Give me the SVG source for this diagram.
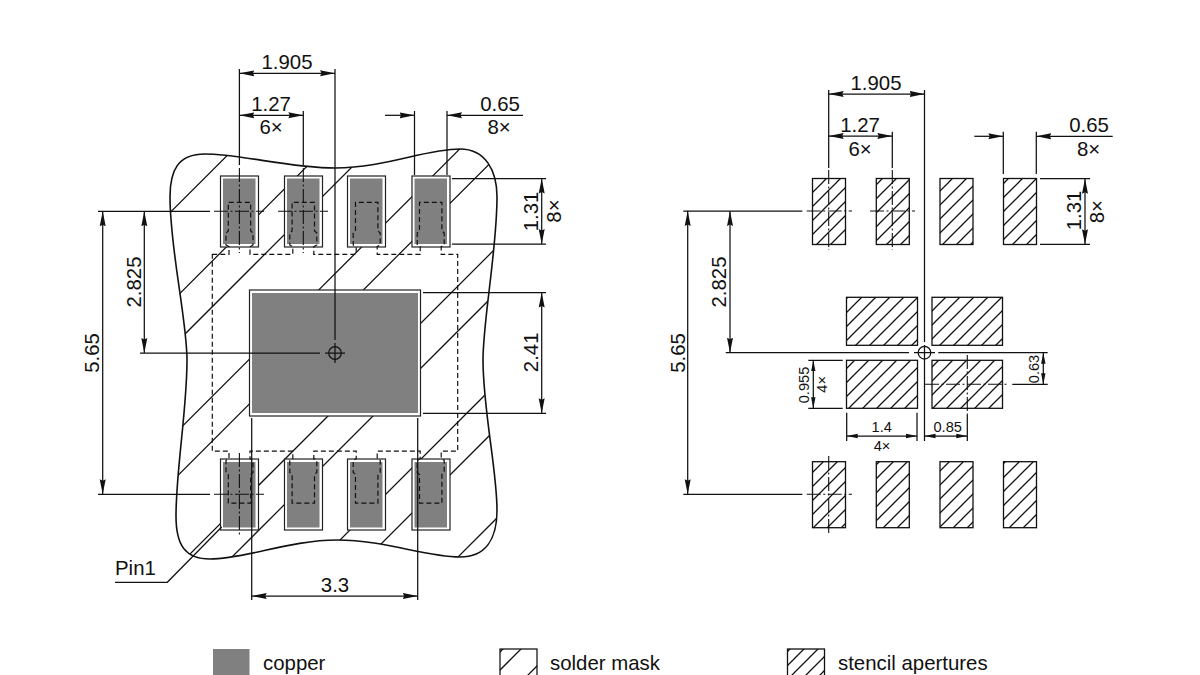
<svg xmlns="http://www.w3.org/2000/svg" width="1200" height="675" viewBox="0 0 1200 675">
<style>
text{font-family:"Liberation Sans",Arial,sans-serif;font-size:20.4px;fill:#111}
.m{text-anchor:middle}
.s{font-size:14.6px}
.l{fill:none;stroke:#111;stroke-width:1.25}
.o{stroke-width:1.6}
.cd{fill:none;stroke:#111;stroke-width:1.1;stroke-dasharray:14 2.5 2 2.5}
.dash{fill:none;stroke:#111;stroke-width:1.2;stroke-dasharray:5 3}
.a{marker-end:url(#ar);marker-start:url(#ar)}
.e{marker-end:url(#ar)}
.as{marker-end:url(#sm);marker-start:url(#sm)}
.pad{fill:#fff;stroke:#222;stroke-width:1.2}
.cu{fill:#808080}
.st{fill:url(#hatch);stroke:#111;stroke-width:1.3}
</style>
<defs>
<marker id="ar" markerUnits="userSpaceOnUse" markerWidth="16" markerHeight="8" refX="15" refY="4" orient="auto-start-reverse"><path d="M0 1L15 4L0 7L1.5 4Z" fill="#111"/></marker>
<marker id="sm" markerUnits="userSpaceOnUse" markerWidth="12" markerHeight="6" refX="11" refY="3" orient="auto-start-reverse"><path d="M0 .8L11 3L0 5.2Z" fill="#111"/></marker>
<pattern id="hatch" patternUnits="userSpaceOnUse" width="14" height="14" patternTransform="translate(11 0)"><path d="M-1 15L15 -1M-1 1L1 -1M13 15L15 13" fill="none" stroke="#111" stroke-width="1.25"/></pattern>
<clipPath id="maskclip"><path clip-rule="evenodd" d="M170 197C170 170 178 154 205 154C240 154 290 168 335 168C385 168 425 149 460 149C485 149 497 170 497 197C497 250 483 320 483 360C483 410 497 470 497 510C497 540 485 557 460 557C425 557 385 540 337 540C290 540 245 559 210 559C185 559 176 545 176 516C176 470 187 410 187 360C187 320 170 250 170 197ZM220.5 176H258.5V247H220.5ZM284.5 176H322.5V247H284.5ZM347.5 176H385.5V247H347.5ZM412 176H450V247H412ZM220.5 459H258.5V530H220.5ZM284.5 459H322.5V530H284.5ZM347.5 459H385.5V530H347.5ZM412 459H450V530H412ZM249.5 290H420.5V416H249.5Z"/></clipPath>
<clipPath id="legclip"><rect x="500" y="649" width="37" height="30"/></clipPath>
</defs>

<g id="solder-mask">
<path class="l" clip-path="url(#maskclip)" d="M150 232.7L282.7 100M150 323.3L373.3 100M150 369L419 100M150 458.7L508.7 100M150 503.3L553.3 100M150 594L644 100M150 639L689 100M200 680L780 100M245 680L825 100M335 680L915 100"/>
<path class="l o" d="M170 197C170 170 178 154 205 154C240 154 290 168 335 168C385 168 425 149 460 149C485 149 497 170 497 197C497 250 483 320 483 360C483 410 497 470 497 510C497 540 485 557 460 557C425 557 385 540 337 540C290 540 245 559 210 559C185 559 176 545 176 516C176 470 187 410 187 360C187 320 170 250 170 197Z"/>
</g>

<g id="copper-pads">
<g id="pad-t1"><rect class="pad" x="220.5" y="176" width="38" height="71"/><rect class="cu" x="223" y="178.5" width="32.5" height="65.5"/></g>
<g id="pad-t2"><rect class="pad" x="284.5" y="176" width="38" height="71"/><rect class="cu" x="287" y="178.5" width="32.5" height="65.5"/></g>
<g id="pad-t3"><rect class="pad" x="347.5" y="176" width="38" height="71"/><rect class="cu" x="350" y="178.5" width="32.5" height="65.5"/></g>
<g id="pad-t4"><rect class="pad" x="412" y="176" width="38" height="71"/><rect class="cu" x="414.5" y="178.5" width="32.5" height="65.5"/></g>
<g id="pad-b1"><rect class="pad" x="220.5" y="459" width="38" height="71"/><rect class="cu" x="223" y="462" width="32.5" height="65.5"/></g>
<g id="pad-b2"><rect class="pad" x="284.5" y="459" width="38" height="71"/><rect class="cu" x="287" y="462" width="32.5" height="65.5"/></g>
<g id="pad-b3"><rect class="pad" x="347.5" y="459" width="38" height="71"/><rect class="cu" x="350" y="462" width="32.5" height="65.5"/></g>
<g id="pad-b4"><rect class="pad" x="412" y="459" width="38" height="71"/><rect class="cu" x="414.5" y="462" width="32.5" height="65.5"/></g>
<g id="pad-center"><rect class="pad" x="249.5" y="290" width="171" height="126"/><rect class="cu" x="252" y="293" width="166" height="120"/></g>
</g>

<g id="mask-opening">
<path class="dash" d="M212.3 254.3H229V246.7L226 245V233L228.3 231V202.3H250.7V231L253 233V245L250 246.7V254.3H292.8V246.7L289.8 245V233L292.1 231V202.3H314.5V231L316.8 233V245L313.8 246.7V254.3H356.2V246.7L353.2 245V233L355.5 231V202.3H377.9V231L380.2 233V245L377.2 246.7V254.3H420.2V246.7L417.2 245V233L419.5 231V202.3H441.9V231L444.2 233V245L441.2 246.7V254.3H457.7V451.1H441.2V458.7L444.2 460.4V472.4L441.9 474.4V503.1H419.5V474.4L417.2 472.4V460.4L420.2 458.7V451.1H377.2V458.7L380.2 460.4V472.4L377.9 474.4V503.1H355.5V474.4L353.2 472.4V460.4L356.2 458.7V451.1H313.8V458.7L316.8 460.4V472.4L314.5 474.4V503.1H292.1V474.4L289.8 472.4V460.4L292.8 458.7V451.1H250V458.7L253 460.4V472.4L250.7 474.4V503.1H228.3V474.4L226 472.4V460.4L229 458.7V451.1H212.3Z"/>
</g>

<g id="stencil-apertures">
<rect id="st-t1" class="st" x="812.5" y="178.5" width="33" height="66"/>
<rect id="st-t2" class="st" x="876.3" y="178.5" width="33" height="66"/>
<rect id="st-t3" class="st" x="940" y="178.5" width="33" height="66"/>
<rect id="st-t4" class="st" x="1003.5" y="178.5" width="33" height="66"/>
<rect id="st-b1" class="st" x="812.5" y="461.7" width="33" height="66"/>
<rect id="st-b2" class="st" x="876.3" y="461.7" width="33" height="66"/>
<rect id="st-b3" class="st" x="940" y="461.7" width="33" height="66"/>
<rect id="st-b4" class="st" x="1003.5" y="461.7" width="33" height="66"/>
<rect id="st-c1" class="st" x="846.5" y="297.3" width="71" height="48"/>
<rect id="st-c2" class="st" x="932" y="297.3" width="70.5" height="48"/>
<rect id="st-c3" class="st" x="846.5" y="360.3" width="71" height="48"/>
<rect id="st-c4" class="st" x="932" y="360.3" width="70.5" height="48"/>
</g>

<g id="connectors">
<path class="l" d="M239.4 69V165M335 69V340M303.3 111V165M414.5 111V175M447 111V175M98 211.3H210M98 494.3H210M140 353H320M452 178.5H546M452 244H546M423 292.5H546M423 413.3H546M251.7 418V600M417.7 418V600"/>
<path class="l" d="M115 582.3H167.3L221.7 527"/>
<path class="cd" d="M239.4 168V253M303.3 168V253M214 211.3H264M278 211.3H328M239.4 453V536M214 494.3H264"/>
<circle class="l" cx="335" cy="353" r="6.3"/>
<path class="l" d="M325 353H345M335 343V363"/>
<path class="l a" d="M239.4 73.3H335"/>
<path class="l a" d="M239.4 115.3H303.3"/>
<path class="l e" d="M385 115.3H414.5"/>
<path class="l e" d="M523 115.3H447"/>
<path class="l a" d="M102.7 211.3V494.3"/>
<path class="l a" d="M144.3 211.3V353"/>
<path class="l a" d="M541.7 178.5V244"/>
<path class="l a" d="M541.7 292.5V413.3"/>
<path class="l a" d="M251.7 596H417.7"/>
<path class="l" d="M828.7 90V168M924.5 90V342M892.3 131.7V168M1003.3 131.7V174M1036.3 131.7V174M683.3 211H802.3M683.3 494.3H802.3M725.7 352.7H909M938.3 352.7H1047.7M1040 178.7H1090M1040 244.3H1090M808.3 360.3H842.7M808.3 408.3H842.7M1012.3 384.3H1047.7M924.5 360V441M846.7 412.7V441M917 412.7V441M967.3 415V441"/>
<path class="cd" d="M828.7 170V250M892.3 170V250M806.7 211H852M870 211H915M828.7 456V534.3M806.7 494.3H852M925 384.3H1008.3M967.3 355V415"/>
<circle class="l" cx="924.5" cy="352.7" r="6.3"/>
<path class="l" d="M914 352.7H935M924.5 345V360"/>
<path class="l a" d="M828.7 94H924.5"/>
<path class="l a" d="M828.7 136H892.3"/>
<path class="l e" d="M974.3 136.3H1003.3"/>
<path class="l e" d="M1112.7 136.3H1036.3"/>
<path class="l a" d="M687.7 211V494.3"/>
<path class="l a" d="M730 211V352.7"/>
<path class="l a" d="M1085 178.7V244.3"/>
<path class="l as" d="M813.3 360.3V408.3"/>
<path class="l as" d="M1043.3 352.7V384.3"/>
<path class="l as" d="M846.7 436H917"/>
<path class="l as" d="M924.5 436H967.3"/>
</g>

<g id="labels">
<text class="m" x="287" y="69">1.905</text>
<text class="m" x="271" y="111">1.27</text>
<text class="m" x="271" y="134">6×</text>
<text class="m" x="500" y="111">0.65</text>
<text class="m" x="499" y="134">8×</text>
<text class="m" transform="rotate(-90 99 353)" x="99" y="353">5.65</text>
<text class="m" transform="rotate(-90 140.5 282)" x="140.5" y="282">2.825</text>
<text class="m" transform="rotate(-90 537.7 211.5)" x="537.7" y="211.5">1.31</text>
<text class="m" transform="rotate(-90 560.7 211)" x="560.7" y="211">8×</text>
<text class="m" transform="rotate(-90 537.7 352.3)" x="537.7" y="352.3">2.41</text>
<text class="m" x="335" y="592">3.3</text>
<text x="115" y="575">Pin1</text>
<text class="m" x="876" y="90">1.905</text>
<text class="m" x="860" y="132.3">1.27</text>
<text class="m" x="860" y="155.7">6×</text>
<text class="m" x="1089" y="132.3">0.65</text>
<text class="m" x="1088.5" y="155.5">8×</text>
<text class="m" transform="rotate(-90 684.5 353)" x="684.5" y="353">5.65</text>
<text class="m" transform="rotate(-90 725.5 282)" x="725.5" y="282">2.825</text>
<text class="m" transform="rotate(-90 1080.7 210.5)" x="1080.7" y="210.5">1.31</text>
<text class="m" transform="rotate(-90 1104 211.7)" x="1104" y="211.7">8×</text>
<text class="m s" transform="rotate(-90 809 385)" x="809" y="385">0.955</text>
<text class="m s" transform="rotate(-90 826.7 384.3)" x="826.7" y="384.3">4×</text>
<text class="m s" transform="rotate(-90 1039.3 369)" x="1039.3" y="369">0.63</text>
<text class="m s" x="881.7" y="431.7">1.4</text>
<text class="m s" x="882" y="451">4×</text>
<text class="m s" x="947.7" y="431.7">0.85</text>
</g>

<g id="legend">
<g id="legend-copper"><rect class="cu" x="213" y="649" width="36.5" height="30"/><text x="263" y="670">copper</text></g>
<g id="legend-mask"><rect class="l" x="500" y="649" width="37" height="30"/><path class="l" clip-path="url(#legclip)" d="M490 662L513 639M490 680L531 639M500 703L560 643"/><text x="550" y="670">solder mask</text></g>
<g id="legend-stencil"><rect class="st" x="787.5" y="649" width="37" height="30"/><text x="838" y="670">stencil apertures</text></g>
</g>
</svg>
